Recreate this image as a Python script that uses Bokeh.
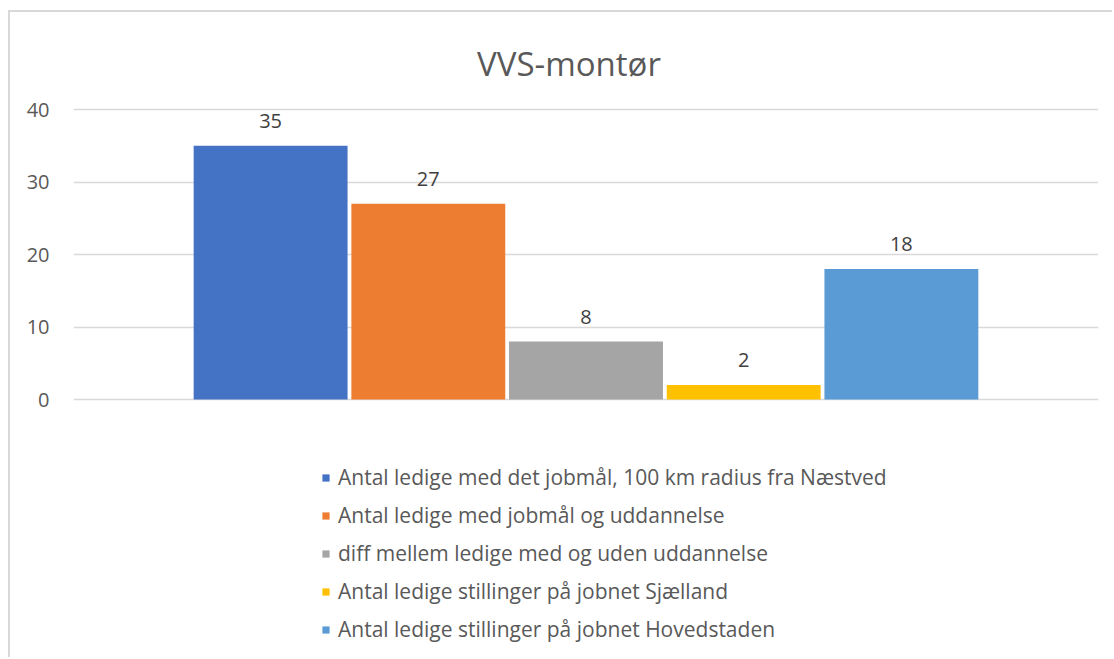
from bokeh.plotting import figure
from bokeh.models import (ColumnDataSource, FactorRange, Range1d, Legend, LegendItem,
                          LabelSet, Label, FixedTicker)
from bokeh.core.properties import value
from bokeh.embed import file_html
from bokeh.resources import INLINE

title_text = "VVS-montør"
series = [
    "Antal ledige med det jobmål, 100 km radius fra Næstved",
    "Antal ledige med jobmål og uddannelse",
    "diff mellem ledige med og uden uddannelse",
    "Antal ledige stillinger på jobnet Sjælland",
    "Antal ledige stillinger på jobnet Hovedstaden",
]
values = [35, 27, 8, 2, 18]
colors = ["#4472C4", "#ED7D31", "#A5A5A5", "#FFC000", "#5B9BD5"]
y_ticks = [0, 10, 20, 30, 40]

FONT = "Open Sans"
TXT = "#595959"

# layout geometry (pixels, page coordinates)
W, H = 1104, 647          # canvas size (placed at x=10, y=12 after border/margin)
CANVAS_TOP, CANVAS_BOTTOM = 12, 659
ZERO_PX = 399             # page y of value 0
PX_PER_UNIT = 7.25
y_max = (ZERO_PX - CANVAS_TOP) / PX_PER_UNIT
y_min = -(CANVAS_BOTTOM - ZERO_PX) / PX_PER_UNIT

src = ColumnDataSource(dict(x=series, top=values, color=colors,
                            label=[str(v) for v in values]))

p = figure(width=W, height=H, output_backend="svg", toolbar_location=None,
           x_range=FactorRange(*series, range_padding=0.3),
           y_range=Range1d(y_min, y_max),
           min_border_left=63, min_border_right=16, min_border_top=0,
           min_border_bottom=0)
p.styles = {"border-top": "2px solid #d9d9d9", "border-left": "2px solid #d9d9d9",
            "margin-left": "8px", "margin-top": "10px"}
p.outline_line_color = None
p.background_fill_color = "white"
p.border_fill_color = "white"

p.xaxis.visible = False
p.xgrid.grid_line_color = None
p.ygrid.grid_line_color = "#d9d9d9"
p.ygrid.grid_line_width = 1.5
p.yaxis.ticker = FixedTicker(ticks=y_ticks)
p.yaxis.axis_line_color = None
p.yaxis.major_tick_line_color = None
p.yaxis.minor_tick_line_color = None
p.yaxis.major_label_text_font = FONT
p.yaxis.major_label_text_font_size = "20px"
p.yaxis.major_label_text_color = TXT
p.yaxis.major_label_standoff = 18

renderers = []
for i, s in enumerate(series):
    r = p.vbar(x=[s], top=[values[i]], width=0.976, fill_color=colors[i],
               line_color=None)
    renderers.append(r)

labels = LabelSet(x="x", y="top", text="label", source=src, text_align="center",
                  text_baseline="alphabetic", y_offset=18, text_font=value(FONT),
                  text_font_size=value("20px"), text_color="#404040")
p.add_layout(labels)

title = Label(x=495.5, y=CANVAS_BOTTOM - 63, x_units="screen", y_units="screen",
              text=title_text, text_align="center", text_baseline="alphabetic",
              text_font=FONT, text_font_size="33px", text_color=TXT)
p.add_layout(title)

legend = Legend(items=[LegendItem(label=s, renderers=[r]) for s, r in zip(series, renderers)],
                location=(248, 11), orientation="vertical",
                glyph_width=9, glyph_height=9, label_height=38, spacing=0,
                label_standoff=8, padding=0, margin=0,
                label_text_font=FONT, label_text_font_size="21px",
                label_text_color=TXT, label_text_baseline="middle",
                border_line_color=None, background_fill_alpha=0)
p.add_layout(legend, "center")

open("out.html", "w").write(file_html(p, INLINE))
